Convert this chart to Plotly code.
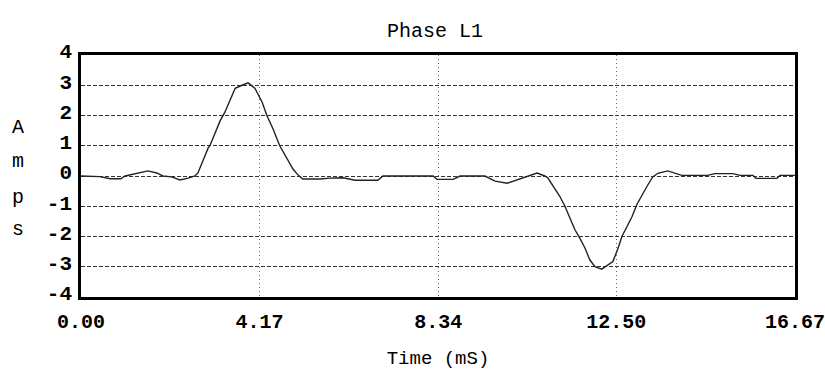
import plotly.graph_objects as go

# Time (mS) and current (Amps)
time_ms = [0.00, 0.44, 0.68, 0.93, 1.03, 1.31, 1.56, 1.77, 1.91, 2.12, 2.31, 2.50, 2.66,
           2.73, 2.85, 2.97, 3.01, 3.13, 3.25, 3.36, 3.48, 3.60, 3.76, 3.90, 4.06, 4.23,
           4.34, 4.48, 4.64, 4.81, 4.95, 5.07, 5.18, 5.58, 5.81, 6.12, 6.40, 6.93, 7.05,
           8.22, 8.31, 8.69, 8.85, 9.43, 9.67, 9.95, 10.25, 10.48, 10.65, 10.83, 10.90,
           11.02, 11.18, 11.30, 11.42, 11.53, 11.65, 11.77, 11.88, 12.00, 12.16, 12.28,
           12.42, 12.54, 12.63, 12.75, 12.87, 12.98, 13.10, 13.22, 13.35, 13.47, 13.70,
           13.86, 14.03, 14.63, 14.80, 15.22, 15.39, 15.69, 15.76, 16.25, 16.32, 16.67]
amps = [0.00, -0.02, -0.09, -0.09, 0.00, 0.08, 0.17, 0.10, 0.00, -0.03, -0.13, -0.07, 0.00,
        0.10, 0.50, 0.93, 1.00, 1.43, 1.83, 2.11, 2.50, 2.90, 3.00, 3.08, 2.90, 2.44,
        2.00, 1.57, 1.00, 0.57, 0.23, 0.03, -0.10, -0.10, -0.07, -0.06, -0.14, -0.14, 0.00,
        0.00, -0.11, -0.11, 0.00, 0.00, -0.17, -0.24, -0.10, 0.03, 0.10, 0.00, -0.06,
        -0.33, -0.67, -1.00, -1.39, -1.77, -2.06, -2.39, -2.77, -3.00, -3.08, -2.97,
        -2.83, -2.39, -2.00, -1.67, -1.33, -0.94, -0.61, -0.33, -0.03, 0.09, 0.17,
        0.10, 0.02, 0.02, 0.08, 0.08, 0.02, 0.02, -0.08, -0.08, 0.02, 0.02]

x_tickvals = [0.00, 4.17, 8.34, 12.50, 16.67]
x_ticktext = ["0.00", "4.17", "8.34", "12.50", "16.67"]
y_tickvals = [4, 3, 2, 1, 0, -1, -2, -3, -4]
y_ticktext = ["4", "3", "2", "1", "0", "-1", "-2", "-3", "-4"]
y_label_letters = ["A", "m", "p", "s"]

FONT = "Liberation Mono"

fig = go.Figure()
fig.add_trace(go.Scatter(x=time_ms, y=amps, mode="lines",
                         line=dict(color="#222222", width=1.4), showlegend=False,
                         hoverinfo="skip"))

fig.update_layout(
    width=825, height=372,
    margin=dict(l=81, r=30, t=55, b=75),
    paper_bgcolor="white", plot_bgcolor="white",
    title=dict(text="Phase L1", x=435 / 825, xanchor="center", y=1 - 30 / 372,
               yanchor="middle", font=dict(family=FONT, size=20, color="black")),
    xaxis=dict(range=[0, 16.672], tickvals=x_tickvals, ticktext=x_ticktext,
               automargin=False,
               showgrid=True, gridcolor="#666666", griddash="1px,3px", gridwidth=1,
               zeroline=False, showline=True, linecolor="black", linewidth=2.5,
               mirror=True, ticks="", ticklabelstandoff=4,
               tickfont=dict(family=FONT, size=20, color="black", weight="bold"),
               title=dict(text="Time (mS)", font=dict(family=FONT, size=19, color="black"),
                          standoff=18)),
    yaxis=dict(range=[-4, 4], tickvals=y_tickvals, ticktext=y_ticktext,
               automargin=False,
               showgrid=True, gridcolor="#333333", griddash="4px,2px", gridwidth=1,
               zeroline=False, showline=True, linecolor="black", linewidth=2.5,
               mirror=True, ticks="", ticklabelshift=-4, ticklabelstandoff=2,
               tickfont=dict(family=FONT, size=21, color="black", weight="bold")),
)

letter_pos = [0.702, 0.558, 0.413, 0.277]
for letter, yp in zip(y_label_letters, letter_pos):
    fig.add_annotation(text=letter, xref="paper", yref="paper", x=-0.088, y=yp,
                       showarrow=False, xanchor="center", yanchor="middle",
                       font=dict(family=FONT, size=20, color="black"))

fig.write_html("out.html")
